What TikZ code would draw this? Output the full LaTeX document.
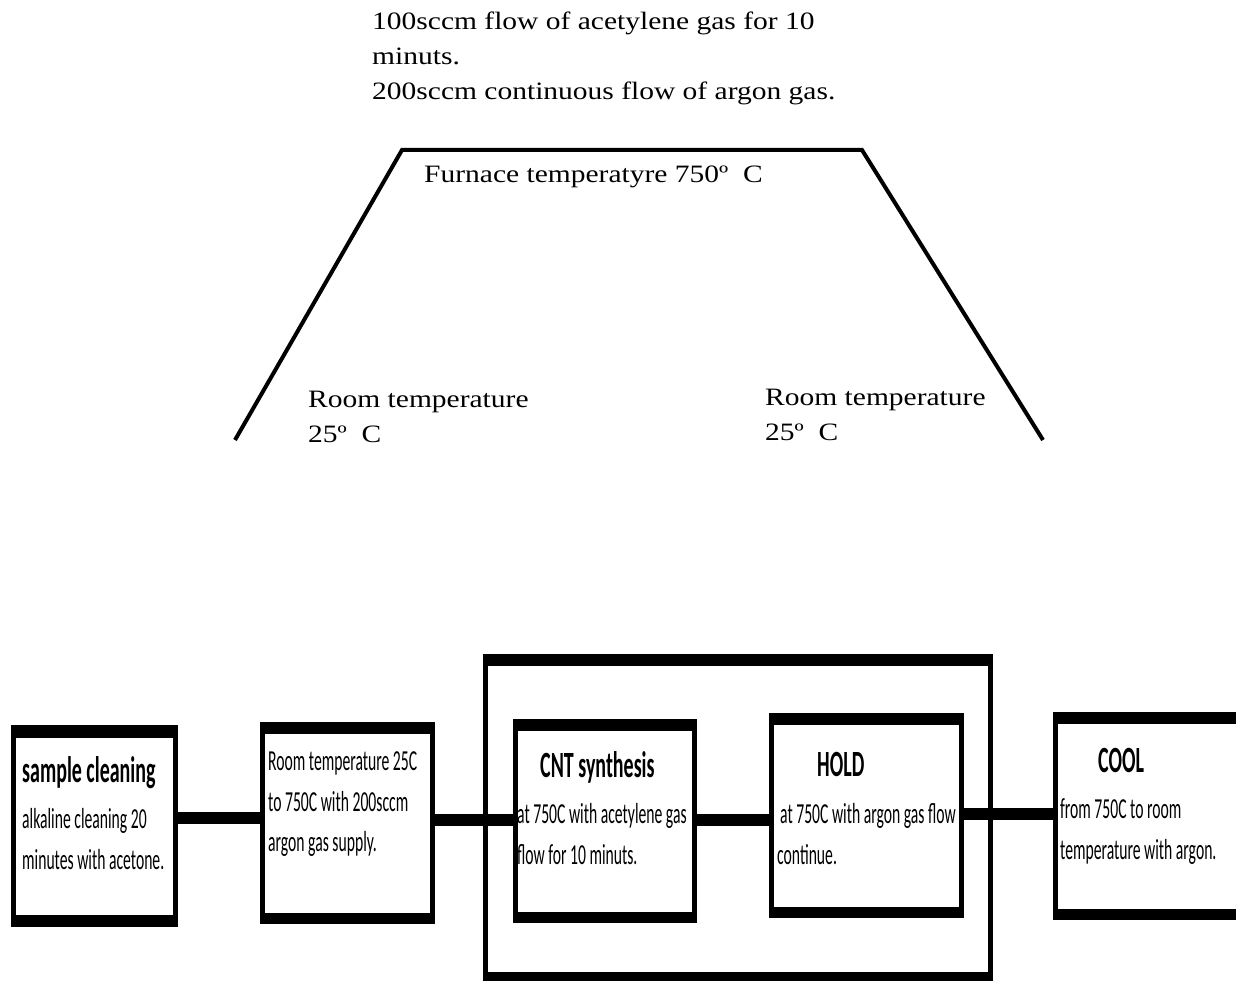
\documentclass[tikz,border=0pt]{standalone}
\usepackage{fontspec}
\newfontfamily\serifw[FakeStretch=1.18]{Liberation Serif}
\newfontfamily\boxf[FakeStretch=0.54]{Carlito}
\tikzset{
  boxn/.style={draw, line width=5pt, rectangle, inner sep=0pt, outer sep=0pt, fill=white},
  conn/.style={line width=12pt},
  trap/.style={line width=4pt, line join=miter},
  serift/.style={anchor=base west, inner sep=0pt, font=\serifw\fontsize{25}{30}\selectfont},
  bodyt/.style={anchor=base west, inner sep=0pt, font=\boxf\fontsize{29}{35}\selectfont},
  headt/.style={anchor=base west, inner sep=0pt, font=\boxf\bfseries\fontsize{37}{44}\selectfont},
}
\newcommand\hbars[2]{%
  \fill ([shift={(-2.5,-2.5)}]#1.north west) rectangle ([shift={(2.5,#2)}]#1.north east);
  \fill ([shift={(-2.5,2.5)}]#1.south west) rectangle ([shift={(2.5,-#2)}]#1.south east);}
\begin{document}
\begin{tikzpicture}[x=1pt,y=-1pt]
\useasboundingbox (0,0) rectangle (1236,981);
\clip (0,0) rectangle (1236,981);
% top text
\node[serift] (f1) at (372,30) {100sccm flow of acetylene gas for 10};
\node[serift] (f2) at (372,65) {minuts.};
\node[serift] (f3) at (372,100) {200sccm continuous flow of argon gas.};
% trapezoid
\coordinate (p1) at (235,440);
\coordinate (p2) at (402,150);
\coordinate (p3) at (862,150);
\coordinate (p4) at (1043,440);
\draw[trap] (p1) -- (p2) -- (p3) -- (p4);
\node[serift] (ft) at (424,183) {Furnace temperatyre 750º\ \ C};
\node[serift] (rl1) at (308,407) {Room temperature};
\node[serift] (rl2) at (308,442) {25º\ \ C};
\node[serift] (rr1) at (765,405) {Room temperature};
\node[serift] (rr2) at (765,440) {25º\ \ C};
% outer box
\node[draw, line width=5pt, inner sep=0pt, outer sep=0pt, minimum width=505.5pt, minimum height=325pt] (outer) at (737.75,819) {};
\hbars{outer}{9.5}
% boxes
\node[boxn, minimum width=162pt, minimum height=197pt] (b1) at (94.5,826) {};
\node[boxn, minimum width=170pt, minimum height=197pt] (b2) at (347.5,823) {};
\node[boxn, minimum width=179pt, minimum height=199pt] (cnt) at (604.5,821) {};
\node[boxn, minimum width=190pt, minimum height=200pt] (hold) at (866.8,815.5) {};
\node[boxn, minimum width=194.5pt, minimum height=203pt] (cool) at (1152.75,816) {};
\hbars{b1}{10}
\hbars{b2}{9}
\hbars{cnt}{9}
\hbars{hold}{9}
\hbars{cool}{9}
% connectors
\coordinate (r1) at (0,818);
\coordinate (r2) at (0,820);
\coordinate (r3) at (0,814);
\draw[conn] (b1.east |- r1) -- (b2.west |- r1);
\draw[conn] (b2.east |- r2) -- (cnt.west |- r2);
\draw[conn] (cnt.east |- r2) -- (hold.west |- r2);
\draw[conn] (hold.east |- r3) -- (cool.west |- r3);
% box texts
\node[headt] (h1) at (22,782) {sample cleaning};
\node[bodyt] (t1a) at (22,828) {alkaline cleaning 20};
\node[bodyt] (t1b) at (22,869) {minutes with acetone.};
\node[bodyt] (t2a) at (268,770) {Room temperature 25C};
\node[bodyt] (t2b) at (268,811) {to 750C with 200sccm};
\node[bodyt] (t2c) at (268,851) {argon gas supply.};
\node[headt] (h3) at (540,777) {CNT synthesis};
\node[bodyt] (t3a) at (517,823) {at 750C with acetylene gas};
\node[bodyt] (t3b) at (517,864) {flow for 10 minuts.};
\node[headt] (h4) at (817,776) {HOLD};
\node[bodyt] (t4a) at (780,823) {at 750C with argon gas flow};
\node[bodyt] (t4b) at (777,864) {continue.};
\node[headt] (h5) at (1098,772) {COOL};
\node[bodyt] (t5a) at (1060,818) {from 750C to room};
\node[bodyt] (t5b) at (1060,859) {temperature with argon.};
\end{tikzpicture}
\end{document}
